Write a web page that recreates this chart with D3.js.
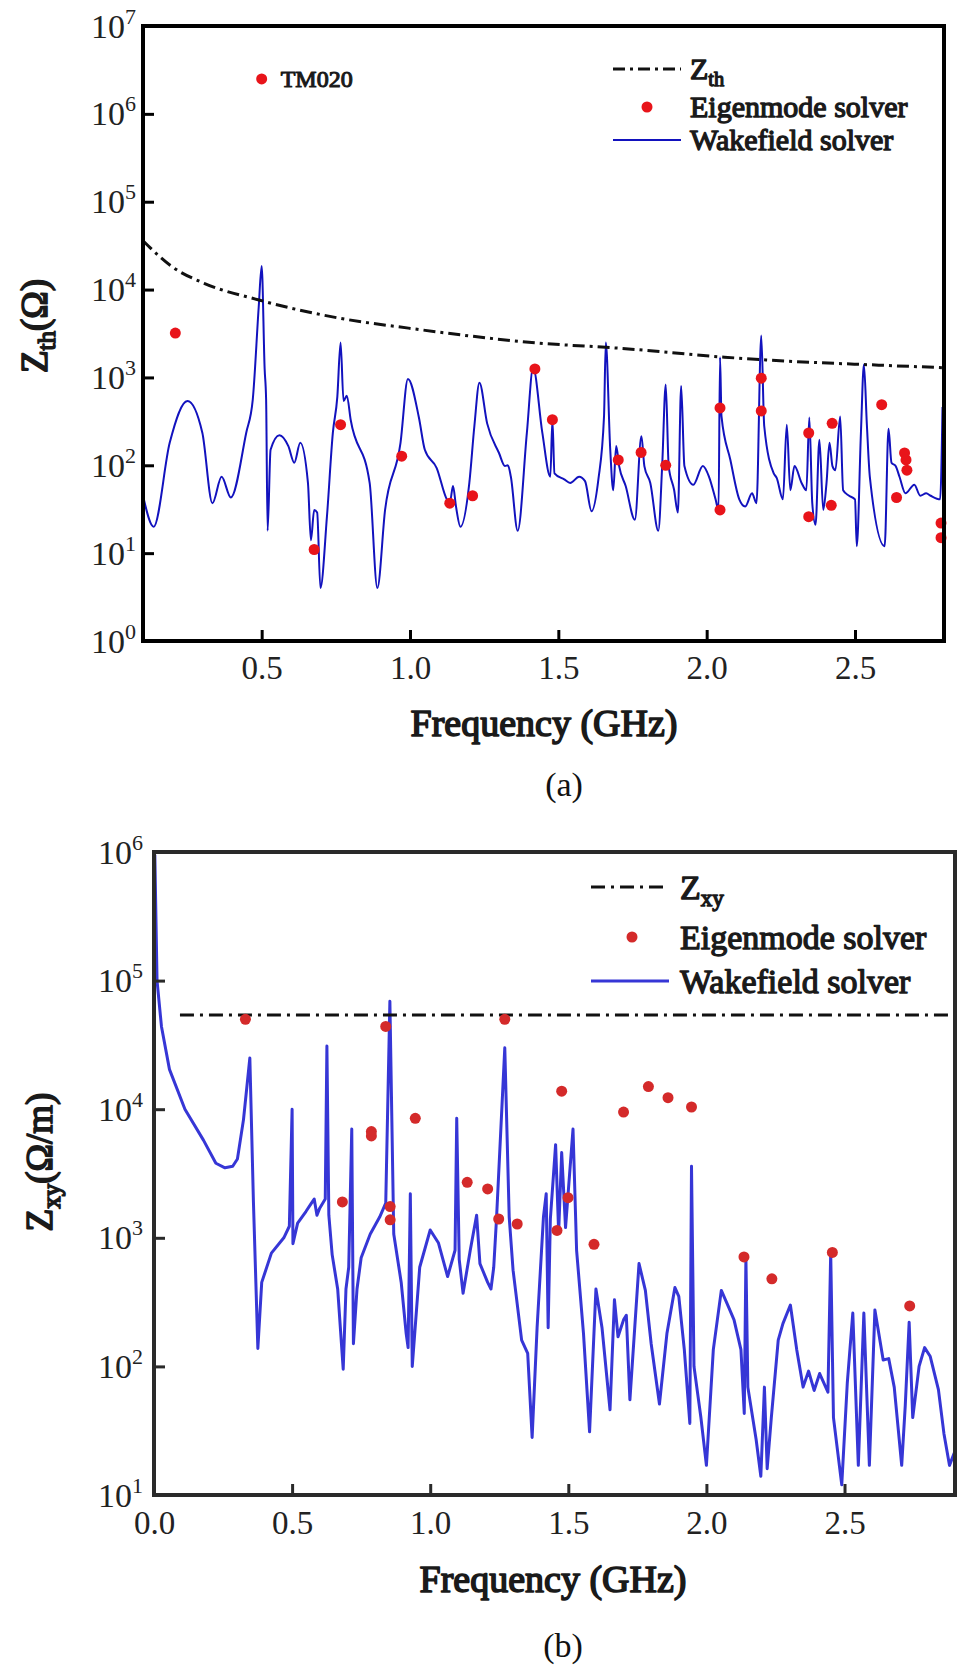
<!DOCTYPE html>
<html>
<head>
<meta charset="utf-8">
<title>Impedance</title>
<script src="https://d3js.org/d3.v7.min.js"></script>
<style>
html, body { margin: 0; background: #fff; }
</style>
</head>
<body>
<svg id="svg"></svg>
<script>
// ---- panel (a): longitudinal impedance ----
const thresholdA = [[0.1, 36000], [0.2, 18000], [0.306, 11800], [0.494, 7560], [0.766, 4700], [0.995, 3640],
	[1.434, 2460], [1.705, 2150], [2.06, 1700], [2.2, 1580], [2.58, 1380], [2.8, 1290]];

const eigenA = [[0.209, 3200], [0.677, 11], [0.766, 290], [0.972, 127], [1.134, 37], [1.211, 45], [1.421, 1250],
	[1.48, 330], [1.702, 115], [1.779, 140], [1.862, 100], [2.045, 450], [2.045, 31], [2.184, 980], [2.184, 415],
	[2.344, 233], [2.344, 26], [2.423, 300], [2.42, 35], [2.59, 490], [2.64, 43], [2.667, 138], [2.672, 115],
	[2.675, 88], [2.79, 22], [2.79, 15]];

const tm020 = [0.5, 2.5e6];

const wakeA = [[0.1, 45], [0.136, 20], [0.19, 180], [0.25, 540], [0.30, 235], [0.334, 37], [0.365, 74], [0.396, 43],
	[0.448, 235], [0.47, 560], [0.49, 6300], [0.50, 18600], [0.51, 1260], [0.515, 560], [0.52, 18], [0.53, 150],
	[0.56, 220], [0.59, 165], [0.61, 107], [0.63, 180], [0.656, 63], [0.666, 14], [0.677, 31], [0.687, 29],
	[0.698, 4], [0.72, 26], [0.74, 235], [0.755, 600], [0.766, 2500], [0.776, 540], [0.787, 620], [0.80, 330],
	[0.864, 63], [0.89, 4], [0.916, 31], [0.968, 180], [0.993, 960], [1.03, 350], [1.05, 150], [1.09, 93],
	[1.124, 41], [1.134, 37], [1.145, 58], [1.155, 34], [1.17, 20], [1.2, 63], [1.217, 280], [1.234, 870],
	[1.26, 300], [1.3, 138], [1.32, 98], [1.33, 100], [1.34, 74], [1.363, 18], [1.394, 235], [1.415, 1300],
	[1.446, 235], [1.473, 74], [1.48, 330], [1.487, 81], [1.52, 69], [1.54, 63], [1.57, 74], [1.59, 66],
	[1.612, 30], [1.635, 69], [1.654, 360], [1.66, 2500], [1.675, 150], [1.685, 52], [1.695, 166], [1.705, 98],
	[1.727, 58], [1.758, 24], [1.78, 214], [1.79, 98], [1.81, 63], [1.837, 18], [1.85, 98], [1.862, 830],
	[1.872, 98], [1.89, 53], [1.903, 29], [1.914, 800], [1.925, 98], [1.955, 60], [1.987, 98], [2.008, 74],
	[2.03, 41], [2.04, 31], [2.045, 1700], [2.05, 360], [2.08, 115], [2.11, 41], [2.13, 34], [2.153, 48],
	[2.168, 37], [2.184, 3000], [2.194, 280], [2.226, 81], [2.236, 72], [2.257, 41], [2.27, 290], [2.282, 52],
	[2.296, 98], [2.32, 63], [2.336, 52], [2.346, 350], [2.356, 37], [2.367, 21], [2.38, 195], [2.393, 31],
	[2.404, 63], [2.414, 180], [2.424, 98], [2.434, 88], [2.45, 360], [2.46, 52], [2.48, 45], [2.50, 41],
	[2.506, 12], [2.52, 235], [2.53, 1400], [2.54, 290], [2.55, 74], [2.60, 12], [2.613, 260], [2.623, 107],
	[2.637, 98], [2.65, 74], [2.67, 48], [2.70, 60], [2.72, 45], [2.74, 48], [2.755, 45], [2.787, 41], [2.795, 460]];

// ---- panel (b): transverse impedance ----
const thresholdB = [[0.094, 54000], [2.9, 54000]];

const eigenB = [[0.331, 50000], [0.839, 44000], [1.27, 50000], [1.476, 13800], [1.7, 9500], [1.79, 15000],
	[1.861, 12300], [1.946, 10400], [0.787, 6700], [0.787, 6200], [0.946, 8500], [0.682, 1900], [0.855, 1750],
	[0.855, 1380], [1.134, 2700], [1.208, 2400], [1.248, 1400], [1.315, 1280], [1.499, 2050], [1.459, 1140],
	[1.593, 890], [2.136, 710], [2.237, 480], [2.456, 770], [2.736, 295]];

const wakeB = [[0.003, 950000], [0.011, 100000], [0.027, 44000], [0.056, 20400], [0.112, 10000], [0.179, 5750],
	[0.224, 3800], [0.257, 3500], [0.285, 3600], [0.302, 4100], [0.324, 8300], [0.347, 25000], [0.36, 1900],
	[0.376, 138], [0.39, 450], [0.425, 760], [0.47, 1000], [0.49, 1230], [0.50, 10000], [0.503, 900],
	[0.52, 1300], [0.55, 1600], [0.57, 1860], [0.58, 2000], [0.59, 1500], [0.60, 1700], [0.62, 2000],
	[0.626, 31000], [0.633, 1500], [0.645, 740], [0.665, 400], [0.685, 95], [0.695, 400], [0.705, 590],
	[0.716, 7000], [0.722, 150], [0.735, 400], [0.75, 700], [0.783, 1070], [0.817, 1450], [0.839, 1860],
	[0.854, 69000], [0.868, 1070], [0.895, 450], [0.913, 180], [0.92, 140], [0.928, 2200], [0.935, 100],
	[0.962, 590], [1.0, 1150], [1.03, 910], [1.063, 500], [1.09, 800], [1.096, 8500], [1.105, 680],
	[1.119, 370], [1.145, 800], [1.168, 1500], [1.18, 630], [1.208, 450], [1.22, 400], [1.23, 590],
	[1.24, 1400], [1.27, 30000], [1.286, 1450], [1.3, 560], [1.331, 160], [1.353, 126], [1.369, 28],
	[1.387, 200], [1.41, 1450], [1.42, 2200], [1.427, 200], [1.435, 1400], [1.454, 5300], [1.465, 1100],
	[1.476, 4600], [1.49, 1200], [1.517, 7000], [1.53, 800], [1.555, 180], [1.577, 31], [1.6, 400],
	[1.622, 200], [1.651, 46], [1.667, 330], [1.68, 170], [1.7, 230], [1.71, 250], [1.723, 55], [1.756, 630],
	[1.779, 390], [1.8, 150], [1.83, 51], [1.857, 180], [1.886, 410], [1.9, 350], [1.92, 135], [1.94, 36],
	[1.946, 3600], [1.955, 100], [1.98, 40], [2.0, 17], [2.025, 135], [2.054, 390], [2.08, 290], [2.1, 230],
	[2.125, 135], [2.137, 43], [2.143, 700], [2.15, 69], [2.18, 27], [2.197, 14], [2.21, 69], [2.22, 16],
	[2.235, 40], [2.26, 160], [2.277, 215], [2.304, 300], [2.327, 135], [2.35, 69], [2.37, 92], [2.39, 65],
	[2.41, 88], [2.44, 63], [2.45, 760], [2.46, 40], [2.49, 12], [2.51, 74], [2.53, 260], [2.55, 17],
	[2.57, 260], [2.59, 17], [2.61, 275], [2.64, 112], [2.66, 115], [2.68, 69], [2.707, 17], [2.72, 50],
	[2.734, 220], [2.747, 40], [2.77, 100], [2.79, 140], [2.81, 120], [2.84, 66], [2.86, 30], [2.88, 17], [2.9, 22]];

const xTicksA = [0.5, 1.0, 1.5, 2.0, 2.5];
const xTicksB = [0.0, 0.5, 1.0, 1.5, 2.0, 2.5];
const decadesA = [0, 1, 2, 3, 4, 5, 6, 7];
const decadesB = [1, 2, 3, 4, 5, 6];

// only the regular serif face is there, so bold text is drawn with a thin stroke
const FONT = "'Liberation Serif', Tinos, 'Times New Roman', serif";
const INK = "#1a1a1a";

const svg = d3.select("#svg").attr("width", 966).attr("height", 1670)
	.attr("font-family", FONT).attr("font-weight", "normal");

function boldText(sel, w) {
	return sel.attr("fill", INK).attr("stroke", INK).attr("stroke-width", w).attr("stroke-linejoin", "round");
}

function panel(c) {
	const g = svg.append("g");
	const x = d3.scaleLinear().domain(c.xDomain).range([c.left, c.right]);
	const y = d3.scaleLog().domain(c.yDomain).range([c.bottom, c.top]);

	const clipId = "clip" + c.id;
	g.append("clipPath").attr("id", clipId)
		.append("rect").attr("x", c.left).attr("y", c.top)
		.attr("width", c.right - c.left).attr("height", c.bottom - c.top);

	const line = d3.line().x(d => x(d[0])).y(d => y(d[1]));

	g.append("path")
		.datum(c.wake)
		.attr("clip-path", `url(#${clipId})`)
		.attr("fill", "none")
		.attr("stroke", c.wakeColor)
		.attr("stroke-width", c.wakeWidth)
		.attr("stroke-linejoin", "round")
		.attr("d", line.curve(c.smooth ? d3.curveMonotoneX : d3.curveLinear));

	g.append("path")
		.datum(c.threshold)
		.attr("fill", "none")
		.attr("stroke", "#111")
		.attr("stroke-width", 3)
		.attr("stroke-dasharray", c.dash)
		.attr("d", line.curve(d3.curveMonotoneX));

	g.append("g")
		.selectAll("circle")
		.data(c.eigen)
		.join("circle")
		.attr("cx", d => x(d[0]))
		.attr("cy", d => y(d[1]))
		.attr("r", 5.5)
		.attr("fill", c.dotColor);

	// x axis, ticks inside
	const ax = g.append("g")
		.attr("transform", `translate(0,${c.bottom})`)
		.call(d3.axisBottom(x).tickValues(c.xTicks).tickSize(-11).tickPadding(c.xPad).tickFormat(d3.format(".1f")));
	ax.attr("font-family", FONT);
	ax.select(".domain").remove();
	ax.selectAll("line").attr("stroke", c.frameColor).attr("stroke-width", 3);
	ax.selectAll("text").attr("font-size", 33).attr("fill", "#222");

	// y axis with 10^n labels
	const ay = g.append("g")
		.attr("transform", `translate(${c.left},0)`)
		.call(d3.axisLeft(y).tickValues(c.decades.map(e => Math.pow(10, e))).tickSize(-11).tickFormat(""));
	ay.attr("font-family", FONT);
	ay.select(".domain").remove();
	ay.selectAll("line").attr("stroke", c.frameColor).attr("stroke-width", 3);
	ay.selectAll(".tick").each(function(d) {
		const t = d3.select(this).append("text")
			.attr("x", c.labelRight - c.left)
			.attr("y", 11)
			.attr("text-anchor", "end")
			.attr("fill", "#222")
			.attr("font-size", 34);
		t.append("tspan").text("10");
		t.append("tspan").attr("dy", -14).attr("font-size", 22).text(Math.round(Math.log10(d)));
	});

	// frame
	g.append("rect")
		.attr("x", c.left).attr("y", c.top)
		.attr("width", c.right - c.left).attr("height", c.bottom - c.top)
		.attr("fill", "none").attr("stroke", c.frameColor).attr("stroke-width", 4);

	// axis titles
	boldText(g.append("text"), 1.6)
		.attr("x", c.xTitle[0]).attr("y", c.xTitle[1])
		.attr("text-anchor", "middle").attr("font-size", 38)
		.text("Frequency (GHz)");

	const yt = boldText(g.append("text"), 1.6)
		.attr("transform", `translate(${c.yTitle[0]},${c.yTitle[1]}) rotate(-90)`)
		.attr("text-anchor", "middle").attr("font-size", 37);
	yt.append("tspan").text("Z");
	yt.append("tspan").attr("font-size", 25).attr("dy", 8).text(c.sub);
	yt.append("tspan").attr("dy", -8).text(c.unit);

	g.append("text")
		.attr("x", c.caption[0]).attr("y", c.caption[1])
		.attr("text-anchor", "middle").attr("font-size", 34).attr("fill", "#111")
		.text(c.captionText);

	// legend
	const L = c.legend;
	const lg = boldText(g.append("g"), 1.3).attr("font-size", L.size);
	lg.append("line").attr("x1", L.lineX[0]).attr("x2", L.lineX[1]).attr("y1", L.rows[0]).attr("y2", L.rows[0])
		.attr("stroke", "#111").attr("stroke-width", 3).attr("stroke-dasharray", c.dash);
	const t0 = lg.append("text").attr("x", L.textX).attr("y", L.rows[0] + L.size * 0.34);
	t0.append("tspan").text("Z");
	t0.append("tspan").attr("font-size", L.size * 0.68).attr("dy", 7).text(c.sub);
	lg.append("circle").attr("cx", L.dotX).attr("cy", L.rows[1]).attr("r", 5.5)
		.attr("fill", c.dotColor).attr("stroke", "none");
	lg.append("text").attr("x", L.textX).attr("y", L.rows[1] + L.size * 0.34).text("Eigenmode solver");
	lg.append("line").attr("x1", L.lineX[0]).attr("x2", L.lineX[1]).attr("y1", L.rows[2]).attr("y2", L.rows[2])
		.attr("stroke", c.wakeColor).attr("stroke-width", c.wakeWidth);
	lg.append("text").attr("x", L.textX).attr("y", L.rows[2] + L.size * 0.34).text("Wakefield solver");

	return {x, y, g};
}

const pa = panel({
	id: "a", left: 143, right: 944, top: 26, bottom: 641,
	xDomain: [0.1, 2.8], yDomain: [1, 1e7], smooth: true,
	wake: wakeA, threshold: thresholdA, eigen: eigenA,
	wakeColor: "#1212be", wakeWidth: 2, dotColor: "#e8141a", frameColor: "#000",
	dash: "12,5,3,5", xTicks: xTicksA, decades: decadesA, xPad: 15, labelRight: 136,
	xTitle: [544, 736], yTitle: [47, 326], sub: "th", unit: "(Ω)",
	caption: [564, 796], captionText: "(a)",
	legend: {size: 30, lineX: [613, 681], dotX: 647, textX: 690, rows: [69, 107, 140]}
});

// TM020 annotation
pa.g.append("circle").attr("cx", pa.x(tm020[0])).attr("cy", pa.y(tm020[1])).attr("r", 5.5).attr("fill", "#e8141a");
boldText(pa.g.append("text"), 1.1).attr("x", pa.x(tm020[0]) + 19).attr("y", pa.y(tm020[1]) + 8)
	.attr("font-size", 24).text("TM020");

panel({
	id: "b", left: 154, right: 955, top: 852, bottom: 1495,
	xDomain: [0, 2.9], yDomain: [10, 1e6], smooth: false,
	wake: wakeB, threshold: thresholdB, eigen: eigenB,
	wakeColor: "#3636d6", wakeWidth: 3, dotColor: "#d42a2a", frameColor: "#2a2a2a",
	dash: "14,6,3,6", xTicks: xTicksB, decades: decadesB, xPad: 16, labelRight: 143,
	xTitle: [553, 1592], yTitle: [52, 1162], sub: "xy", unit: "(Ω/m)",
	caption: [563, 1657], captionText: "(b)",
	legend: {size: 34, lineX: [591, 669], dotX: 632, textX: 680, rows: [887, 937, 981]}
});
</script>
</body>
</html>
